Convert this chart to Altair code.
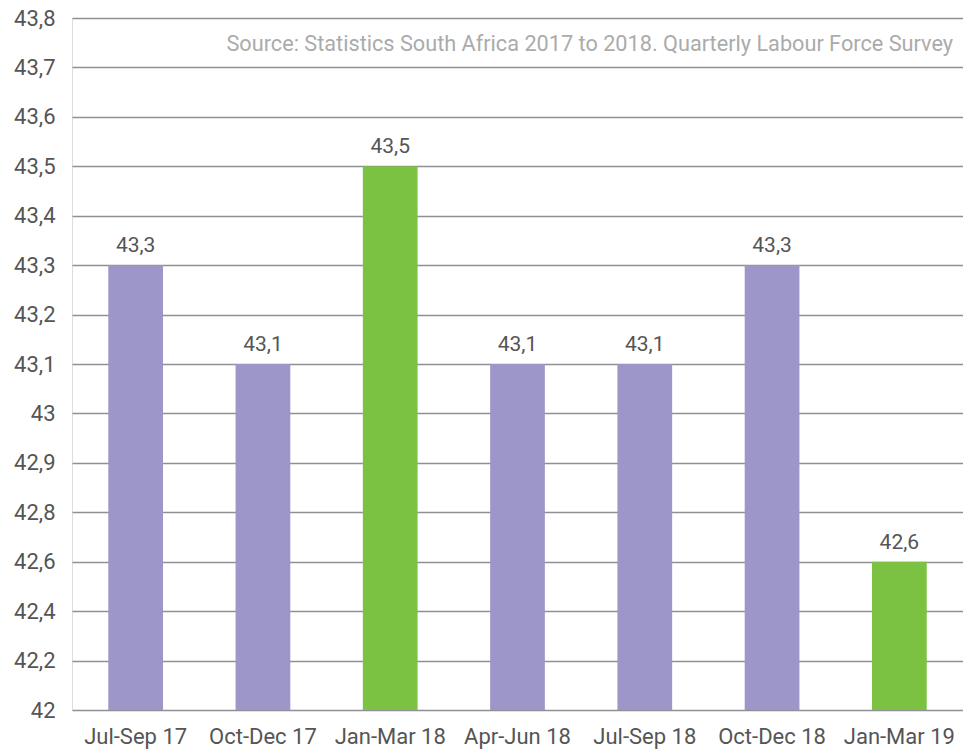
import altair as alt
import pandas as pd

quarters = ["Jul-Sep 17", "Oct-Dec 17", "Jan-Mar 18", "Apr-Jun 18",
            "Jul-Sep 18", "Oct-Dec 18", "Jan-Mar 19"]
values = [43.3, 43.1, 43.5, 43.1, 43.1, 43.3, 42.6]
bar_colors = ["#9c96c9", "#9c96c9", "#7bc142", "#9c96c9",
              "#9c96c9", "#9c96c9", "#7bc142"]
y_ticks = [42, 42.2, 42.4, 42.6, 42.8, 42.9, 43, 43.1, 43.2, 43.3,
           43.4, 43.5, 43.6, 43.7, 43.8]
source_text = ["Source: Statistics South Africa 2017 to 2018. Quarterly Labour Force Survey"]

W, H = 891, 692
step = H / 14.0

df = pd.DataFrame({"quarter": quarters, "value": values, "color": bar_colors})

FONT = "Roboto"
TXT = "#555555"

x = alt.X("quarter:N", sort=quarters, title=None,
          scale=alt.Scale(paddingInner=0.57, paddingOuter=0.285),
          axis=alt.Axis(labelAngle=0, labelFontSize=22, labelColor=TXT,
                        labelFont=FONT, ticks=False, domain=False,
                        labelPadding=16, grid=False))
yscale = alt.Scale(domain=[42, 42.8, 43.8], range=[H, H - 4 * step, 0],
                   zero=False, nice=False)
y = alt.Y("value:Q", scale=yscale, title=None,
          axis=alt.Axis(values=y_ticks, labelFontSize=22, labelColor=TXT,
                        labelFont=FONT, ticks=False, domain=False,
                        labelPadding=17, grid=True, gridColor="#909094",
                        gridWidth=1.5,
                        labelExpr="replace(format(datum.value, '~g'), '.', ',')"))

bars = alt.Chart(df).mark_bar().encode(
    x=x, y=y, y2=alt.datum(42),
    color=alt.Color("color:N", scale=None),
)

labels = alt.Chart(df).transform_calculate(
    label="replace(format(datum.value, '.1f'), '.', ',')"
).mark_text(baseline="alphabetic", dy=-13, fontSize=21, font=FONT,
            color=TXT).encode(
    x=alt.X("quarter:N", sort=quarters),
    y=alt.Y("value:Q", scale=yscale),
    text="label:N",
)

src = alt.Chart(pd.DataFrame({"t": source_text})).mark_text(
    align="right", baseline="middle", fontSize=21.7, font=FONT, color="#ababab"
).encode(x=alt.value(W - 10), y=alt.value(26), text="t:N")

chart = alt.layer(bars, labels, src).properties(
    width=W, height=H,
    autosize=alt.AutoSizeParams(type="none"),
    padding={"left": 72, "top": 18, "right": 0, "bottom": 43},
).configure_view(stroke=None).configure(background="white")

chart.save("out.html", embed_options={"renderer": "svg", "actions": False})
